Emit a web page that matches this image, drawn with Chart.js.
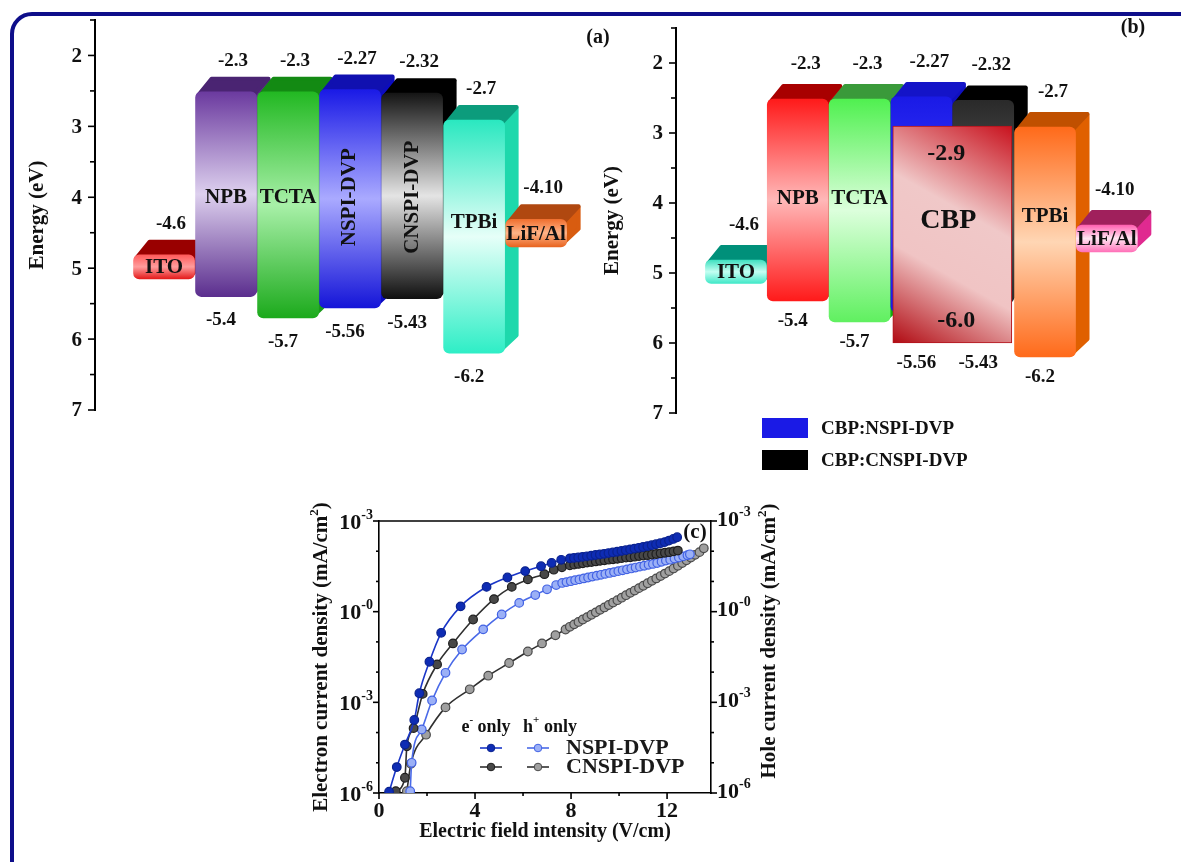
<!DOCTYPE html>
<html>
<head>
<meta charset="utf-8">
<script src="https://cdn.jsdelivr.net/npm/chart.js@4.4.1/dist/chart.umd.min.js"></script>
<style>
  body { margin: 0; background: #fff; width: 1181px; height: 862px; overflow: hidden; position: relative; }
  #frame { position: absolute; left: 10px; top: 12px; width: 1250px; height: 950px;
           border: 4px solid #0e0e8a; border-radius: 22px; }
  .box { position: absolute; }
</style>
</head>
<body>
<div id="frame"></div>
<div class="box" style="left:0;top:0"><canvas id="chartA" width="620" height="420"></canvas></div>
<div class="box" style="left:590px;top:0"><canvas id="chartB" width="591" height="480"></canvas></div>
<div class="box" style="left:290px;top:480px"><canvas id="chartC" width="520" height="370"></canvas></div>
<script>
// ---- energy level diagrams (a) and (b)
const layers = ['ITO', 'NPB', 'TCTA', 'NSPI-DVP', 'CNSPI-DVP', 'TPBi', 'LiF/Al'];
const lumo = [4.6, 2.3, 2.3, 2.27, 2.32, 2.7, 4.10];
const homo = [5.15, 5.4, 5.7, 5.56, 5.43, 6.2, 4.7];
const lumoText = ['-4.6', '-2.3', '-2.3', '-2.27', '-2.32', '-2.7', '-4.10'];
const homoText = ['', '-5.4', '-5.7', '-5.56', '-5.43', '-6.2', ''];
const hostName = 'CBP';
const hostRange = [2.9, 6.0];
const hostText = ['-2.9', '-6.0'];
const hostSpan = [3, 4];
const energyTicks = [2, 3, 4, 5, 6, 7];
const energyMinor = [1.5, 2.5, 3.5, 4.5, 5.5, 6.5];
const legendB = ['CBP:NSPI-DVP', 'CBP:CNSPI-DVP'];

// ---- current density (c)
const fieldEN = [0.42, 0.74, 1.08, 1.47, 1.68, 2.10, 2.59, 3.40, 4.48, 5.35, 6.09, 6.75, 7.19, 7.59,
  7.95, 8.12, 8.30, 8.48, 8.66, 8.84, 9.02, 9.20, 9.38, 9.56, 9.74, 9.92, 10.10, 10.28, 10.46,
  10.64, 10.82, 11.00, 11.18, 11.36, 11.54, 11.72, 11.90, 12.08, 12.26, 12.42];
const jEN = [1.1e-6, 7.2e-6, 4.0e-5, 2.6e-4, 2.0e-3, 2.2e-2, 0.20, 1.5, 6.6, 13.5, 22, 32, 41, 52,
  58, 60, 62, 65, 68, 71, 75, 78, 82, 87, 91, 96, 102, 108, 115,
  122, 130, 138, 147, 158, 170, 184, 200, 225, 255, 290];
const fieldEC = [0.70, 1.08, 1.16, 1.44, 1.82, 2.42, 3.08, 3.92, 4.79, 5.53, 6.20, 6.89, 7.28, 7.62,
  7.95, 8.13, 8.31, 8.49, 8.67, 8.85, 9.03, 9.21, 9.39, 9.57, 9.75, 9.93, 10.11, 10.29, 10.47,
  10.65, 10.83, 11.01, 11.19, 11.37, 11.55, 11.73, 11.91, 12.09, 12.27, 12.45];
const jEC = [1.15e-6, 3.2e-6, 3.5e-5, 1.4e-4, 1.9e-3, 1.8e-2, 8.9e-2, 0.55, 2.6, 6.6, 11.7, 17.4, 24.5, 29.5,
  34, 36, 38, 40, 42, 44, 46, 48, 50, 52.5, 54, 56, 59, 62, 63,
  66, 69, 72, 74, 78, 81, 85, 89, 93, 99, 105];
const fieldHN = [1.30, 1.36, 1.78, 2.21, 2.77, 3.46, 4.34, 5.11, 5.84, 6.51, 7.00, 7.38,
  7.63, 7.81, 7.99, 8.17, 8.35, 8.53, 8.71, 8.89, 9.07, 9.25, 9.43, 9.61, 9.79, 9.97, 10.15,
  10.33, 10.51, 10.69, 10.87, 11.05, 11.23, 11.41, 11.59, 11.77, 11.95, 12.13, 12.31, 12.49,
  12.67, 12.85, 12.95];
const jHN = [1.15e-6, 1.0e-5, 1.26e-4, 1.15e-3, 9.5e-3, 5.6e-2, 0.26, 0.81, 1.95, 3.55, 5.5, 7.6,
  8.9, 9.5, 10.2, 11.0, 11.7, 12.6, 13.5, 14.5, 15.5, 16.6, 17.8, 19.1, 20.4, 21.9, 23.4,
  25.1, 26.9, 28.8, 30.9, 33.1, 35.5, 38.0, 40.7, 44.7, 49, 52.5, 57.5, 61.7,
  67.6, 74, 79];
const fieldHC = [1.16, 1.33, 1.96, 2.77, 3.78, 4.55, 5.42, 6.20, 6.79, 7.35, 7.77,
  7.95, 8.13, 8.31, 8.49, 8.67, 8.85, 9.03, 9.21, 9.39, 9.57, 9.75, 9.93, 10.11, 10.29, 10.47,
  10.65, 10.83, 11.01, 11.19, 11.37, 11.55, 11.73, 11.91, 12.09, 12.27, 12.45, 12.63, 12.81,
  12.99, 13.17, 13.35, 13.53];
const jHC = [1.15e-6, 9.3e-6, 8.5e-5, 6.8e-4, 2.7e-3, 7.6e-3, 2.0e-2, 4.8e-2, 8.9e-2, 0.166, 0.257,
  0.316, 0.38, 0.457, 0.55, 0.66, 0.79, 0.95, 1.15, 1.38, 1.66, 2.0, 2.4, 2.9, 3.5, 4.2,
  5.0, 6.0, 7.2, 8.7, 10.5, 12.6, 15.1, 18.2, 21.9, 26.9, 33.1, 40.7, 50,
  61.7, 75.9, 93.3, 125];
const seriesNames = ['NSPI-DVP', 'CNSPI-DVP'];
const carrierNames = [['e', '-', ' only'], ['h', '+', ' only']];
const fieldTicks = [0, 4, 8, 12];
const fieldMinor = [2, 6, 10];
const logTicks = [1e-6, 1e-3, 1, 1e3];
const logTickBase = '10';
const logTickExp = ['-6', '-3', '-0', '-3'];
const logMinor = [1e-5, 1e-4, 1e-2, 1e-1, 10, 100];

const SERIF = "'Liberation Serif', 'DejaVu Serif', serif";
const DX = 14, DY = 15; // 3d depth of the slabs

// colours of each slab: front gradient (top, middle, bottom), top face, right face
const skinA = [
  { front: ['#ff5a5a', '#ff9c9c', '#e41c1c'], top: '#990000', side: '#b00000' },
  { front: ['#6b3a9f', '#ddd0ee', '#5b2e8e'], top: '#4a2472', side: '#5a2c86' },
  { front: ['#22b822', '#a8f0a8', '#1caa1c'], top: '#138a13', side: '#1a9a1a' },
  { front: ['#1a1ae6', '#aaaaff', '#1515d8'], top: '#1010b0', side: '#0c0cc0' },
  { front: ['#151515', '#e4e4e4', '#101010'], top: '#000000', side: '#000000' },
  { front: ['#2ae8c0', '#e6fff8', '#2eeec6'], top: '#0c9c7c', side: '#1ed8ac' },
  { front: ['#f07030', '#ffb488', '#e86420'], top: '#b04810', side: '#d85c10' }
];
const skinB = [
  { front: ['#40e0c0', '#c4fff2', '#40e8c8'], top: '#00907a', side: '#00a080' },
  { front: ['#ff1a1a', '#ffb8b8', '#ff1a1a'], top: '#a80000', side: '#c00000' },
  { front: ['#50f050', '#dcffdc', '#60f060'], top: '#3a9a3a', side: '#10b010' },
  { front: ['#1a1ae6', '#3a3aff', '#1a1ae6'], top: '#1414c8', side: '#1010c0' },
  { front: ['#2a2a2a', '#5a5a5a', '#2a2a2a'], top: '#000000', side: '#000000' },
  { front: ['#ff6a1a', '#ffd6b4', '#ff6a1a'], top: '#c05000', side: '#e06000' },
  { front: ['#ff60b0', '#ffe6f2', '#ff70b8'], top: '#a0205c', side: '#e02a90' }
];

function put(ctx, s, x, y, font, align, color) {
  ctx.save();
  ctx.font = font;
  ctx.fillStyle = color || '#111';
  ctx.textAlign = align || 'center';
  ctx.textBaseline = 'middle';
  ctx.fillText(s, x, y);
  ctx.restore();
}
function vput(ctx, s, x, y, font) {
  ctx.save();
  ctx.translate(x, y);
  ctx.rotate(-Math.PI / 2);
  put(ctx, s, 0, 0, font);
  ctx.restore();
}
// text with a raised exponent; align is where x sits: left, center or right
function supput(ctx, base, exp, x, y, size, align, tail) {
  const fb = 'bold ' + size + 'px ' + SERIF, fe = 'bold ' + Math.round(size * 0.62) + 'px ' + SERIF;
  ctx.save();
  ctx.font = fb; const wb = ctx.measureText(base).width;
  const wt = tail ? ctx.measureText(tail).width : 0;
  ctx.font = fe; const we = ctx.measureText(exp).width;
  const w = wb + we + wt;
  let x0 = align === 'right' ? x - w : align === 'center' ? x - w / 2 : x;
  put(ctx, base, x0, y, fb, 'left');
  put(ctx, exp, x0 + wb, y - size * 0.36, fe, 'left');
  if (tail) put(ctx, tail, x0 + wb + we, y, fb, 'left');
  ctx.restore();
}
function poly(ctx, pts) {
  ctx.beginPath();
  pts.forEach((p, i) => i ? ctx.lineTo(p[0], p[1]) : ctx.moveTo(p[0], p[1]));
  ctx.closePath();
  ctx.fill();
  ctx.stroke();
}
function tickMarks(ctx, scale, values, len, side) {
  ctx.save();
  ctx.strokeStyle = '#000';
  ctx.lineWidth = 1.6;
  values.forEach(v => {
    const p = scale.getPixelForValue(v);
    ctx.beginPath();
    if (side === 'left') { ctx.moveTo(scale.right, p); ctx.lineTo(scale.right - len, p); }
    else if (side === 'right') { ctx.moveTo(scale.left, p); ctx.lineTo(scale.left + len, p); }
    else { ctx.moveTo(p, scale.top); ctx.lineTo(p, scale.top + len); }
    ctx.stroke();
  });
  ctx.restore();
}

function layerFill(c, skin) {
  const chart = c.chart;
  const s = skin[c.dataIndex] || skin[0];
  if (c.type !== 'data' || !chart.chartArea) return s.front[0];
  const ys = chart.scales.y;
  const y0 = ys.getPixelForValue(c.raw.y[0]) + DY, y1 = ys.getPixelForValue(c.raw.y[1]);
  const g = chart.ctx.createLinearGradient(0, y0, 0, y1);
  g.addColorStop(0, s.front[0]);
  g.addColorStop(0.5, s.front[1]);
  g.addColorStop(1, s.front[2]);
  return g;
}
function hostFill(c) {
  const chart = c.chart;
  if (c.type !== 'data' || !chart.chartArea) return '#f0c8c8';
  const xs = chart.scales.x, ys = chart.scales.y;
  const xl = xs.getPixelForValue(hostSpan[0]) - 30, xr = xs.getPixelForValue(hostSpan[1]) + 30;
  const g = chart.ctx.createLinearGradient(xl, ys.getPixelForValue(c.raw.y[1]), xr, ys.getPixelForValue(c.raw.y[0]));
  g.addColorStop(0, '#b00810');
  g.addColorStop(0.35, '#f0c4c4');
  g.addColorStop(0.6, '#f0c8c8');
  g.addColorStop(1, '#c8101c');
  return g;
}

function depthPlugin(o) {
  return {
    id: 'depth',
    afterDatasetsUpdate(chart) {
      // the value marks the back edge of the slab, the front face starts one depth lower
      chart.getDatasetMeta(0).data.forEach(b => {
        if (b.base < b.y) b.base += DY; else b.y += DY;
      });
    },
    beforeDatasetsDraw(chart) {
      const ctx = chart.ctx;
      chart.getDatasetMeta(0).data.forEach((b, i) => {
        const s = o.skin[i];
        const L = b.x - b.width / 2, R = b.x + b.width / 2;
        const T = Math.min(b.y, b.base), B = Math.max(b.y, b.base);
        ctx.save();
        ctx.lineJoin = 'round';
        ctx.lineWidth = 4;
        ctx.fillStyle = ctx.strokeStyle = s.side;
        poly(ctx, [[R - 4, T + 3], [R + DX - 2, T - DY + 3], [R + DX - 2, B - DY - 3], [R - 4, B - 3]]);
        ctx.fillStyle = ctx.strokeStyle = s.top;
        poly(ctx, [[L + 3, T + 3], [L + DX + 2, T - DY + 2], [R + DX - 2, T - DY + 2], [R - 3, T + 3]]);
        ctx.restore();
      });
    }
  };
}

function textPlugin(o) {
  const REG = 'bold 19px ' + SERIF, BOLD = 'bold 21px ' + SERIF;
  return {
    id: 'energyText',
    afterDatasetsDraw(chart) {
      const ctx = chart.ctx, ys = chart.scales.y, xs = chart.scales.x;
      chart.getDatasetMeta(0).data.forEach((b, i) => {
        const back = ys.getPixelForValue(lumo[i]);
        put(ctx, lumoText[i], b.x + o.topDx, back - o.topGap, REG);
        let bot = ys.getPixelForValue(homo[i]);
        if (o.host && i >= hostSpan[0] && i <= hostSpan[1]) bot = Math.max(bot, ys.getPixelForValue(hostRange[1]));
        if (homoText[i]) put(ctx, homoText[i], b.x - 5, bot + o.botGap, REG);
        const T = Math.min(b.y, b.base), B = Math.max(b.y, b.base);
        const at = o.nameAt[i];
        if (at === 'front') put(ctx, layers[i], b.x, (T + B) / 2 + 1, BOLD);
        else if (at === 'rot') vput(ctx, layers[i], b.x, ys.getPixelForValue(4), BOLD);
        else if (typeof at === 'number') put(ctx, layers[i], b.x, ys.getPixelForValue(at), BOLD);
      });
      if (o.host) {
        const hx = xs.getPixelForValue((hostSpan[0] + hostSpan[1]) / 2);
        put(ctx, hostText[0], hx - 6, ys.getPixelForValue(hostRange[0]) + 28, 'bold 24px ' + SERIF);
        put(ctx, hostText[1], hx + 4, ys.getPixelForValue(hostRange[1]) - 22, 'bold 24px ' + SERIF);
        put(ctx, hostName, hx - 4, ys.getPixelForValue(4.25), 'bold 28px ' + SERIF);
      }
    },
    afterDraw(chart) {
      const ctx = chart.ctx, ys = chart.scales.y, a = chart.chartArea;
      tickMarks(ctx, ys, energyTicks, 7, 'left');
      tickMarks(ctx, ys, energyMinor, 5, 'left');
      energyTicks.forEach(v => put(ctx, String(v), a.left - 13, ys.getPixelForValue(v) + 1, BOLD, 'right'));
      vput(ctx, 'Energy (eV)', o.titleX, (a.top + a.bottom) / 2, BOLD);
      put(ctx, o.panel[0], o.panel[1], o.panel[2], 'bold 20px ' + SERIF);
      if (o.legend) {
        const colors = [skinB[hostSpan[0]].front[0], '#000000'];
        legendB.forEach((s, k) => {
          const y = o.legend[1] + k * 32;
          ctx.fillStyle = colors[k];
          ctx.fillRect(o.legend[0], y - 10, 46, 20);
          put(ctx, s, o.legend[0] + 59, y + 1, 'bold 19px ' + SERIF, 'left');
        });
      }
    }
  };
}

function buildEnergy(id, o) {
  const ds = [{
    label: 'layers', order: 1, grouped: false,
    data: layers.map((n, i) => ({ x: i, y: [lumo[i], homo[i]] })),
    backgroundColor: c => layerFill(c, o.skin),
    borderWidth: 0, borderRadius: 6, borderSkipped: false, barThickness: 61
  }];
  if (o.host) ds.push({
    label: hostName, order: 0, grouped: false,
    data: [{ x: (hostSpan[0] + hostSpan[1]) / 2, y: hostRange }],
    backgroundColor: hostFill, borderColor: '#b3121b', borderWidth: 1,
    borderSkipped: false, barThickness: 119
  });
  return new Chart(document.getElementById(id), {
    type: 'bar',
    data: { datasets: ds },
    options: {
      responsive: false,
      animation: false,
      layout: { padding: o.pad },
      plugins: { legend: { display: false }, tooltip: { enabled: false } },
      scales: {
        x: { type: 'linear', display: false, offset: false, min: o.xMin, max: o.xMax },
        y: {
          reverse: true, min: 1.5, max: 7,
          afterFit: s => { s.width = o.axisX; },
          afterBuildTicks: s => { s.ticks = energyTicks.map(v => ({ value: v })); },
          grid: { display: false, drawTicks: false },
          border: { display: true, color: '#000', width: 2 },
          ticks: { display: false }
        }
      }
    },
    plugins: [depthPlugin(o), textPlugin(o)]
  });
}

buildEnergy('chartA', {
  skin: skinA, pad: { top: 20, bottom: 10, left: 0, right: 20 }, axisX: 95,
  xMin: -1.113, xMax: 7.03, topDx: 7, topGap: 16, botGap: 24, titleX: 38,
  nameAt: ['front', 4, 4, 'rot', 'rot', 4.35, 'front'], panel: ['(a)', 598, 38]
});
buildEnergy('chartB', {
  skin: skinB, pad: { top: 28, bottom: 67, left: 0, right: 0 }, axisX: 86, host: true,
  xMin: -0.97, xMax: 7.2, topDx: 8, topGap: 20, botGap: 20, titleX: 23,
  nameAt: ['front', 3.93, 3.93, null, null, 4.2, 'front'], panel: ['(b)', 543, 28],
  legend: [172, 428]
});

// ---- panel (c)
const pts = (xs, ys) => xs.map((x, i) => ({ x, y: ys[i] }));
const lineStyles = [
  { line: '#1a36c8', fill: '#0e2cb4', edge: '#0a2290' },
  { line: '#303030', fill: '#484848', edge: '#1e1e1e' },
  { line: '#4a6ae8', fill: '#9bb0f6', edge: '#4262e4' },
  { line: '#303030', fill: '#a0a0a0', edge: '#4a4a4a' }
];
const curves = [pts(fieldEN, jEN), pts(fieldEC, jEC), pts(fieldHN, jHN), pts(fieldHC, jHC)];

const decorC = {
  id: 'decorC',
  afterDraw(chart) {
    const ctx = chart.ctx, a = chart.chartArea, s = chart.scales;
    const B21 = 'bold 21px ' + SERIF;
    ctx.save();
    ctx.strokeStyle = '#000';
    ctx.lineWidth = 1.6;
    ctx.beginPath(); ctx.moveTo(a.left, a.top); ctx.lineTo(a.right, a.top); ctx.stroke();
    ctx.restore();
    tickMarks(ctx, s.y, logTicks, 6, 'left');
    tickMarks(ctx, s.y, logMinor, 3, 'left');
    tickMarks(ctx, s.y2, logTicks, 6, 'right');
    tickMarks(ctx, s.y2, logMinor, 3, 'right');
    tickMarks(ctx, s.x, fieldTicks, 6, 'bottom');
    tickMarks(ctx, s.x, fieldMinor, 3, 'bottom');
    logTicks.forEach((v, i) => {
      const p = s.y.getPixelForValue(v) + 2;
      supput(ctx, logTickBase, logTickExp[i], a.left - 6, p, 22, 'right');
      supput(ctx, logTickBase, logTickExp[i], a.right + 6, p - 3, 22, 'left');
    });
    fieldTicks.forEach(v => put(ctx, String(v), s.x.getPixelForValue(v), a.bottom + 18, 'bold 22px ' + SERIF));
    ctx.save();
    ctx.translate(32, (a.top + a.bottom) / 2);
    ctx.rotate(-Math.PI / 2);
    supput(ctx, 'Electron current density (mA/cm', '2', 0, 0, 21, 'center', ')');
    ctx.restore();
    ctx.save();
    ctx.translate(480, 161);
    ctx.rotate(-Math.PI / 2);
    supput(ctx, 'Hole current density (mA/cm', '2', 0, 0, 21, 'center', ')');
    ctx.restore();
    put(ctx, 'Electric field intensity (V/cm)', (a.left + a.right) / 2, 352, 'bold 20px ' + SERIF);
    put(ctx, '(c)', 405, 53, B21);
    // legend
    carrierNames.forEach((c, k) => supput(ctx, c[0], c[1], k ? 260 : 196, 247, 18, 'center', c[2]));
    seriesNames.forEach((n, r) => {
      const y = 268 + r * 19;
      [r, 2 + r].forEach((d, k) => {
        const st = lineStyles[d], x0 = k ? 237 : 190;
        ctx.save();
        ctx.strokeStyle = st.line; ctx.lineWidth = 1.6;
        ctx.beginPath(); ctx.moveTo(x0, y); ctx.lineTo(x0 + 22, y); ctx.stroke();
        ctx.fillStyle = st.fill; ctx.strokeStyle = st.edge; ctx.lineWidth = 1;
        ctx.beginPath(); ctx.arc(x0 + 11, y, 3.8, 0, Math.PI * 2); ctx.fill(); ctx.stroke();
        ctx.restore();
      });
      put(ctx, n, 276, y, 'bold 22px ' + SERIF, 'left', '#1a1a1a');
    });
  }
};

const logAxis = (pos) => ({
  type: 'logarithmic', position: pos, min: 1e-6, max: 1e3,
  afterFit: s => { s.width = pos === 'left' ? 89 : 99; },
  afterBuildTicks: s => { s.ticks = logTicks.map(v => ({ value: v })); },
  grid: { display: false, drawTicks: false },
  border: { display: true, color: '#000', width: 1.6 },
  ticks: { display: false }
});

new Chart(document.getElementById('chartC'), {
  type: 'line',
  data: {
    datasets: curves.map((d, i) => ({
      label: carrierNames[i < 2 ? 0 : 1].join('') + ' ' + seriesNames[i % 2],
      data: d,
      borderColor: lineStyles[i].line,
      backgroundColor: lineStyles[i].fill,
      pointBackgroundColor: lineStyles[i].fill,
      pointBorderColor: lineStyles[i].edge,
      pointBorderWidth: 1.2,
      pointRadius: 4.3,
      borderWidth: 1.6,
      cubicInterpolationMode: 'monotone',
      fill: false
    }))
  },
  options: {
    responsive: false,
    animation: false,
    layout: { padding: { top: 41, left: 0, right: 0, bottom: 0 } },
    plugins: { legend: { display: false }, tooltip: { enabled: false } },
    scales: {
      x: {
        type: 'linear', min: 0, max: 13.83,
        afterFit: s => { s.height = 57; },
        afterBuildTicks: s => { s.ticks = fieldTicks.map(v => ({ value: v })); },
        grid: { display: false, drawTicks: false },
        border: { display: true, color: '#000', width: 1.6 },
        ticks: { display: false }
      },
      y: logAxis('left'),
      y2: logAxis('right')
    }
  },
  plugins: [decorC]
});
</script>
</body>
</html>
